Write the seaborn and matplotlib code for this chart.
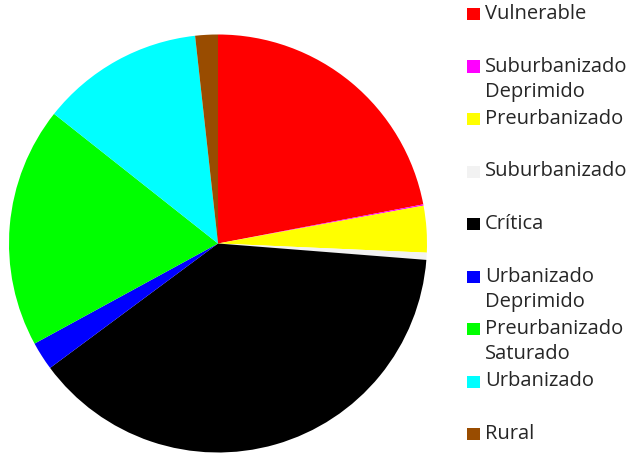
import matplotlib
matplotlib.use("Agg")
import matplotlib.pyplot as plt
from matplotlib.patches import Rectangle
import seaborn as sns

sns.set_theme(style="white")
plt.rcParams['font.family'] = ['Open Sans', 'DejaVu Sans']

categories = ["Vulnerable", "Suburbanizado\nDeprimido", "Preurbanizado", "Suburbanizado",
              "Crítica", "Urbanizado\nDeprimido", "Preurbanizado\nSaturado", "Urbanizado", "Rural"]
values = [22.0, 0.1, 3.6, 0.55, 38.6, 2.2, 18.6, 12.6, 1.75]
colors = ["#FF0000", "#FF00FF", "#FFFF00", "#F2F2F2", "#000000",
          "#0000FF", "#00FF00", "#00FFFF", "#994C00"]

W, H = 633, 453
fig = plt.figure(figsize=(W / 100, H / 100), dpi=100)
cx, cy, r = 218, 243.5, 209
ax = fig.add_axes([(cx - r) / W, (H - cy - r) / H, 2 * r / W, 2 * r / H])
ax.pie(values, colors=colors, startangle=90, counterclock=False,
       wedgeprops=dict(linewidth=0))
ax.set_xlim(-1, 1)
ax.set_ylim(-1, 1)
ax.set_aspect('equal')
ax.axis('off')

# legend
y0, step = 14, 52.5
for i, (lab, col) in enumerate(zip(categories, colors)):
    yc = y0 + i * step
    fig.patches.append(Rectangle((467 / W, 1 - (yc + 6) / H), 13 / W, 12 / H,
                                 transform=fig.transFigure, facecolor=col,
                                 edgecolor='none'))
    for j, line in enumerate(lab.split("\n")):
        fig.text(485 / W, 1 - (yc + j * 25) / H, line, va='center', ha='left',
                 fontsize=14.5, color='#262626')

fig.savefig("out.png", dpi=100)
